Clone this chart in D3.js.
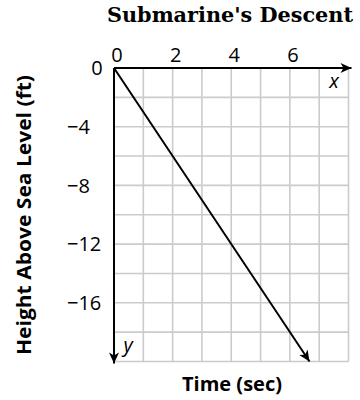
<!DOCTYPE html>
<html>
<head>
<meta charset="utf-8">
<script src="https://cdn.jsdelivr.net/npm/d3@7"></script>
<style>
  body { margin: 0; background: #fff; }
  svg { display: block; }
</style>
</head>
<body>
<svg id="chart" width="360" height="400"></svg>
<script>
// chart data
const title = "Submarine's Descent";
const xTitle = 'Time (sec)';
const yTitle = 'Height Above Sea Level (ft)';
const timeTicks = [0, 2, 4, 6];
const heightTicks = [-4, -8, -12, -16];
const timeValues = [0, 6.67];
const heightValues = [0, -20];

const svg = d3.select('#chart');

const x = d3.scaleLinear().domain([0, 8]).range([114, 348.5]);
const y = d3.scaleLinear().domain([0, -20]).range([68, 361.5]);

// arrowhead
svg.append('defs').append('marker')
    .attr('id', 'arrow')
    .attr('viewBox', '-12 -6 14 12')
    .attr('refX', 0).attr('refY', 0)
    .attr('markerWidth', 14).attr('markerHeight', 12)
    .attr('markerUnits', 'userSpaceOnUse')
    .attr('orient', 'auto')
    .append('path')
    .attr('d', 'M0,0 L-11,-5 L-8,0 L-11,5 Z')
    .attr('fill', '#000');

// grid
const grid = svg.append('g').attr('stroke', '#cbcbcb').attr('stroke-width', 1.6);
grid.selectAll('.vx').data(d3.range(1, 9)).enter().append('line')
    .attr('x1', d => x(d)).attr('x2', d => x(d))
    .attr('y1', y(0)).attr('y2', y(-20));
grid.selectAll('.hy').data(d3.range(-2, -21, -2)).enter().append('line')
    .attr('y1', d => y(d)).attr('y2', d => y(d))
    .attr('x1', x(0)).attr('x2', x(8));

// axes
svg.append('line')
    .attr('x1', x(0)).attr('y1', y(0))
    .attr('x2', x(8) + 3).attr('y2', y(0))
    .attr('stroke', '#000').attr('stroke-width', 2)
    .attr('marker-end', 'url(#arrow)');
svg.append('line')
    .attr('x1', x(0)).attr('y1', y(0))
    .attr('x2', x(0)).attr('y2', y(-20) + 2)
    .attr('stroke', '#000').attr('stroke-width', 2)
    .attr('marker-end', 'url(#arrow)');

// descent line
const pts = timeValues.map((t, i) => [x(t), y(heightValues[i])]);
svg.append('path')
    .attr('d', d3.line()(pts))
    .attr('fill', 'none')
    .attr('stroke', '#000').attr('stroke-width', 2)
    .attr('marker-end', 'url(#arrow)');

const font = "'Open Sans', 'Noto Sans', sans-serif";

// tick labels
svg.selectAll('.tx').data(timeTicks).enter().append('text')
    .attr('x', d => x(d) + 3).attr('y', 62)
    .attr('text-anchor', 'middle')
    .attr('font-family', font).attr('font-size', 20)
    .text(d => d);

svg.append('text')
    .attr('x', 97).attr('y', y(0)).attr('dy', '0.36em')
    .attr('text-anchor', 'middle')
    .attr('font-family', font).attr('font-size', 20)
    .text('0');

svg.selectAll('.ty').data(heightTicks).enter().append('text')
    .attr('x', 67).attr('y', d => y(d)).attr('dy', '0.36em')
    .attr('text-anchor', 'start')
    .attr('font-family', font).attr('font-size', 20)
    .text(d => '\u2212' + Math.abs(d));

// axis letters
svg.append('text')
    .attr('x', 334).attr('y', 88)
    .attr('text-anchor', 'middle')
    .attr('font-family', font).attr('font-size', 20).attr('font-style', 'italic')
    .text('x');
svg.append('text')
    .attr('x', 128).attr('y', 352)
    .attr('text-anchor', 'middle')
    .attr('font-family', font).attr('font-size', 20).attr('font-style', 'italic')
    .text('y');

// titles
svg.append('text')
    .attr('x', 230).attr('y', 22)
    .attr('text-anchor', 'middle')
    .attr('font-family', "'DejaVu Serif', serif").attr('font-weight', 'bold').attr('font-size', 21)
    .attr('textLength', 246).attr('lengthAdjust', 'spacingAndGlyphs')
    .text(title);

svg.append('text')
    .attr('x', 232).attr('y', 391)
    .attr('text-anchor', 'middle')
    .attr('font-family', font).attr('font-weight', 'bold').attr('font-size', 20)
    .attr('textLength', 100).attr('lengthAdjust', 'spacingAndGlyphs')
    .text(xTitle);

svg.append('text')
    .attr('transform', 'translate(31,215) rotate(-90)')
    .attr('text-anchor', 'middle')
    .attr('font-family', font).attr('font-weight', 'bold').attr('font-size', 20)
    .attr('textLength', 280).attr('lengthAdjust', 'spacingAndGlyphs')
    .text(yTitle);
</script>
</body>
</html>
